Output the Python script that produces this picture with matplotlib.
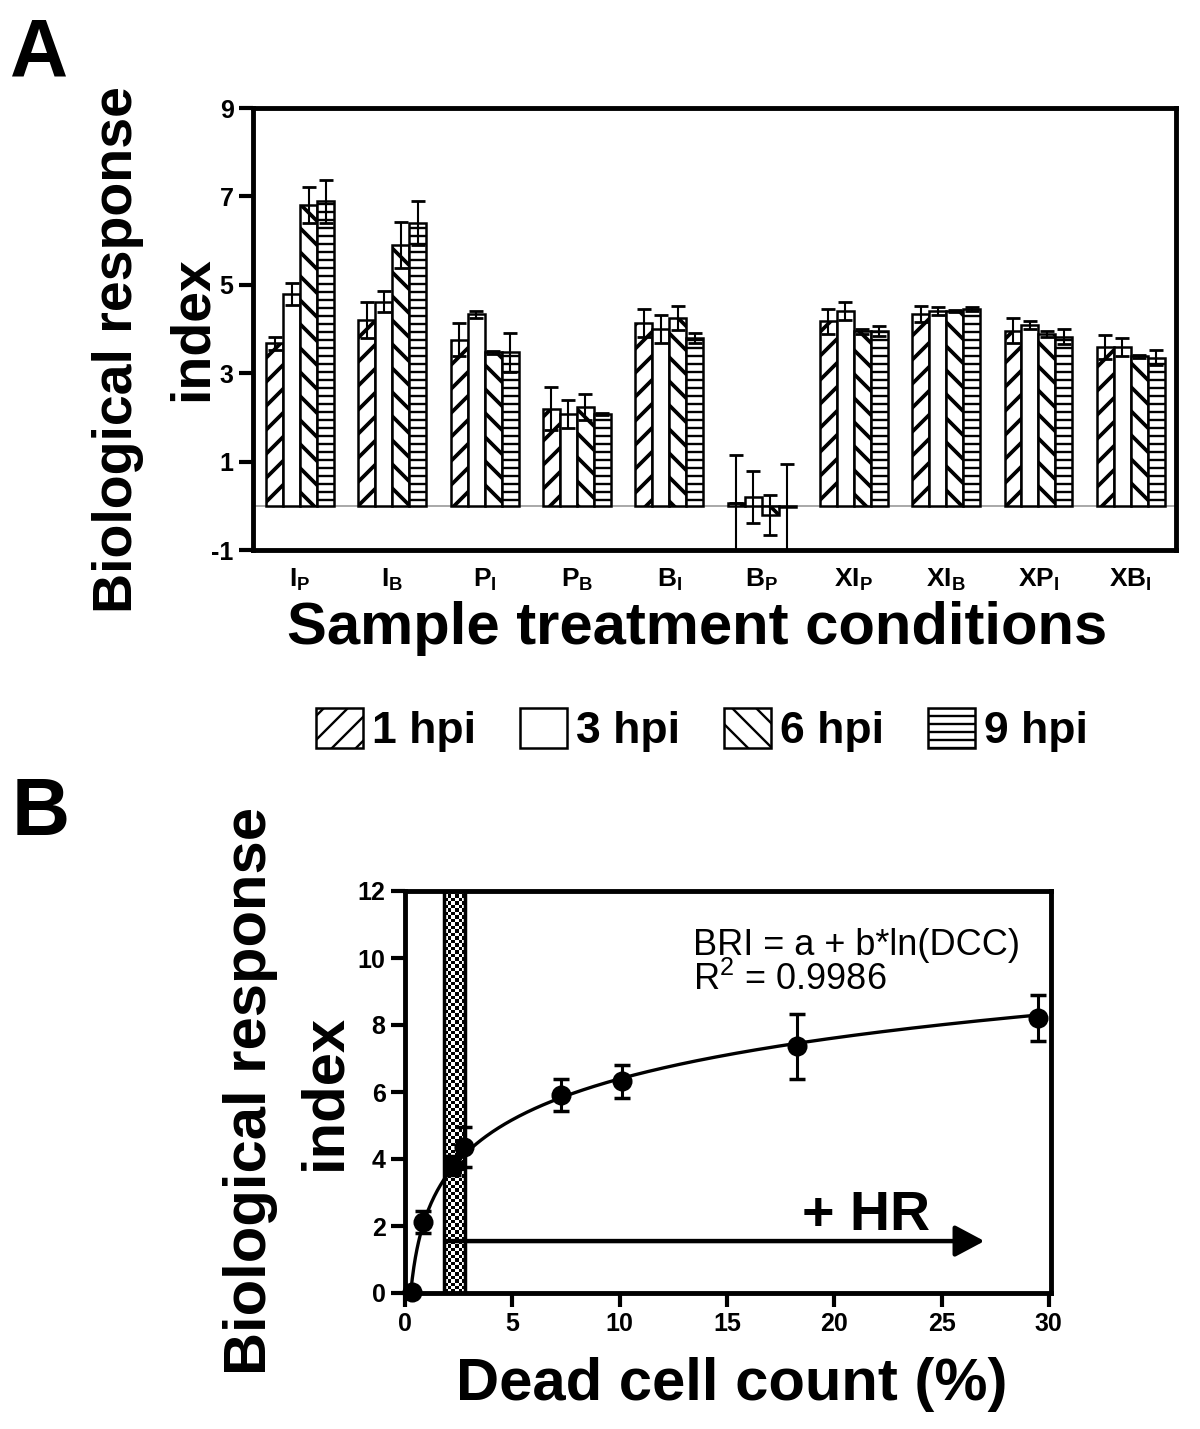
import numpy as np
import matplotlib
matplotlib.use("Agg")
import matplotlib.pyplot as plt
from matplotlib.patches import Patch

plt.rcParams['font.family'] = ['Liberation Sans', 'DejaVu Sans']
plt.rcParams['mathtext.fontset'] = 'custom'
plt.rcParams['mathtext.rm'] = 'Liberation Sans'
plt.rcParams['mathtext.bf'] = 'Liberation Sans:bold'
plt.rcParams['axes.unicode_minus'] = False

# ---- panel A data ----
conditions = [r'$\mathbf{I}_{\mathbf{P}}$', r'$\mathbf{I}_{\mathbf{B}}$',
              r'$\mathbf{P}_{\mathbf{I}}$', r'$\mathbf{P}_{\mathbf{B}}$',
              r'$\mathbf{B}_{\mathbf{I}}$', r'$\mathbf{B}_{\mathbf{P}}$',
              r'$\mathbf{XI}_{\mathbf{P}}$', r'$\mathbf{XI}_{\mathbf{B}}$',
              r'$\mathbf{XP}_{\mathbf{I}}$', r'$\mathbf{XB}_{\mathbf{I}}$']
series_names = ['1 hpi', '3 hpi', '6 hpi', '9 hpi']
hpi1 = [3.68, 4.21, 3.76, 2.20, 4.14, 0.07, 4.17, 4.34, 3.96, 3.59]
err1 = [0.15, 0.41, 0.37, 0.49, 0.32, 1.09, 0.28, 0.19, 0.28, 0.28]
hpi3 = [4.79, 4.62, 4.33, 2.08, 4.00, 0.20, 4.41, 4.40, 4.08, 3.59]
err3 = [0.24, 0.24, 0.08, 0.32, 0.32, 0.59, 0.20, 0.09, 0.09, 0.20]
hpi6 = [6.80, 5.90, 3.47, 2.23, 4.25, -0.21, 3.95, 4.41, 3.89, 3.38]
err6 = [0.41, 0.53, 0.03, 0.29, 0.28, 0.45, 0.06, 0.02, 0.06, 0.03]
hpi9 = [6.89, 6.40, 3.47, 2.08, 3.80, -0.03, 3.96, 4.45, 3.83, 3.35]
err9 = [0.49, 0.49, 0.45, 0.02, 0.11, 0.97, 0.11, 0.04, 0.16, 0.17]

# ---- panel B data ----
dcc = [0.31, 0.83, 2.23, 2.73, 7.25, 10.1, 18.25, 29.48]
bri = [0.03, 2.12, 3.80, 4.36, 5.90, 6.32, 7.37, 8.22]
bri_err = [0.0, 0.33, 0.28, 0.60, 0.48, 0.50, 0.97, 0.69]
hr_band = [1.8, 2.8]

# drawn at 144 dpi so the hatch spacing matches; sizes below are tuned at 100 dpi
DPI = 144
P = 100 / DPI

fig = plt.figure(figsize=(1200 / DPI, 1429 / DPI), dpi=DPI)

# ================= panel A =================
axA = fig.add_axes([253/1200, 1-550/1429, (1176-253)/1200, (550-108)/1429])
x = np.arange(len(conditions))
w = 0.184
hatches = ['//', '', '\\\\', '---']
hatch_lw = [2.7, 1.0, 2.7, 1.7]
vals = [hpi1, hpi3, hpi6, hpi9]
errs = [err1, err3, err6, err9]
handles = []
for i in range(4):
    off = (i - 1.5) * w
    plt.rcParams['hatch.linewidth'] = hatch_lw[i] * P
    bars = axA.bar(x + off, vals[i], w, color='white', edgecolor='black',
                   linewidth=1.8 * P, hatch=hatches[i], zorder=2)
    v = np.array(vals[i])
    e = np.array(errs[i])
    # lower whiskers that run past -1 are cut at the axis, like the original
    lo = np.minimum(e, v + 1.0)
    axA.errorbar(x + off, v, yerr=[lo, e], fmt='none', ecolor='black',
                 elinewidth=1.5 * P, capsize=0, zorder=3)
    inside = lo >= e
    axA.errorbar((x + off)[inside], v[inside], yerr=e[inside], fmt='none',
                 ecolor='black', elinewidth=0, capsize=5 * P, capthick=2 * P, zorder=3)
    if (~inside).any():
        axA.errorbar((x + off)[~inside], v[~inside],
                     yerr=[np.zeros((~inside).sum()), e[~inside]], fmt='none',
                     ecolor='black', elinewidth=0, capsize=5 * P, capthick=2 * P,
                     zorder=3)
    h = Patch(facecolor='white', edgecolor='black', linewidth=1.8 * P,
              hatch=hatches[i])
    for bar in list(bars) + [h]:
        if hasattr(bar, 'set_hatch_linewidth'):
            bar.set_hatch_linewidth(hatch_lw[i] * P)
    handles.append(h)

axA.axhline(0, color='#999999', lw=1.2 * P, zorder=1)
axA.set_xlim(-0.51, 9.49)
axA.set_ylim(-1, 9)
axA.set_yticks([-1, 1, 3, 5, 7, 9])
axA.set_xticks(x)
axA.set_xticklabels(conditions, fontsize=19 * P)
axA.tick_params(axis='x', length=0, pad=12 * P)
axA.tick_params(axis='y', length=10 * P, width=3 * P, labelsize=18 * P, pad=4 * P)
for lab in axA.get_yticklabels():
    lab.set_fontweight('bold')
for s in axA.spines.values():
    s.set_linewidth(3.5 * P)
    s.set_zorder(5)

fig.text(118/1200, 1-350/1429, 'Biological response', rotation=90,
         ha='center', va='center', fontsize=40 * P, fontweight='bold')
fig.text(193/1200, 1-329/1429, 'index', rotation=90,
         ha='center', va='center', fontsize=40 * P, fontweight='bold')
fig.text(697/1200, 1-628/1429, 'Sample treatment conditions',
         ha='center', va='center', fontsize=43 * P, fontweight='bold')

fig.legend(handles, series_names, loc='center', bbox_to_anchor=(702/1200, 1-730/1429),
           ncol=4, frameon=False, prop={'size': 32 * P, 'weight': 'bold'},
           handlelength=1.05, handleheight=1.0, handletextpad=0.2,
           columnspacing=1.0)

fig.text(10/1200, 1-75/1429, 'A', fontsize=58 * P, fontweight='bold', va='baseline')
fig.text(12/1200, 1-835/1429, 'B', fontsize=58 * P, fontweight='bold', va='baseline')

# ================= panel B =================
axB = fig.add_axes([405/1200, 1-1293/1429, (1051-405)/1200, (1293-891)/1429])
cells = np.indices((115, 6)).sum(axis=0) % 2
axB.imshow(cells, extent=[hr_band[0], hr_band[1], 0, 12], aspect='auto',
           cmap='gray', interpolation='nearest', zorder=1)
axB.axvspan(hr_band[0], hr_band[1], fill=False, edgecolor='black', lw=2.5 * P, zorder=2)

b, a = np.polyfit(np.log(dcc), bri, 1)
xs = np.linspace(max(np.exp(-a / b), 0.05), dcc[-1], 400)
axB.plot(xs, a + b * np.log(xs), color='black', lw=2.4 * P, zorder=3)
axB.errorbar(dcc, bri, yerr=bri_err, fmt='o', color='black', markersize=13 * P,
             elinewidth=2.2 * P, capsize=6 * P, capthick=2.5 * P, zorder=4, clip_on=False)

axB.annotate('', xy=(27.0, 1.55), xytext=(1.95, 1.55),
             arrowprops=dict(arrowstyle='-|>,head_length=0.45,head_width=0.24',
                             lw=3.2 * P, mutation_scale=40 * P, color='black',
                             shrinkA=0, shrinkB=0), zorder=5)
axB.text(21.5, 1.88, '+ HR', fontsize=40 * P, fontweight='bold', ha='center', va='baseline')
axB.text(13.4, 10.09, 'BRI = a + b*ln(DCC)', fontsize=26 * P, va='baseline')
axB.text(13.4, 9.05, r'R$^{2}$ = 0.9986', fontsize=26 * P, va='baseline')

axB.set_xlim(0, 30.1)
axB.set_ylim(0, 12)
axB.set_xticks([0, 5, 10, 15, 20, 25, 30])
axB.set_yticks([0, 2, 4, 6, 8, 10, 12])
axB.tick_params(length=10 * P, width=3 * P, labelsize=18 * P, pad=4 * P)
for lab in axB.get_xticklabels() + axB.get_yticklabels():
    lab.set_fontweight('bold')
for s in axB.spines.values():
    s.set_linewidth(3.5 * P)

fig.text(250/1200, 1-1091/1429, 'Biological response', rotation=90,
         ha='center', va='center', fontsize=43 * P, fontweight='bold')
fig.text(325/1200, 1-1092/1429, 'index', rotation=90,
         ha='center', va='center', fontsize=43 * P, fontweight='bold')
fig.text(732/1200, 1-1385/1429, 'Dead cell count (%)',
         ha='center', va='center', fontsize=43 * P, fontweight='bold')

fig.savefig('out.png', dpi=DPI)
